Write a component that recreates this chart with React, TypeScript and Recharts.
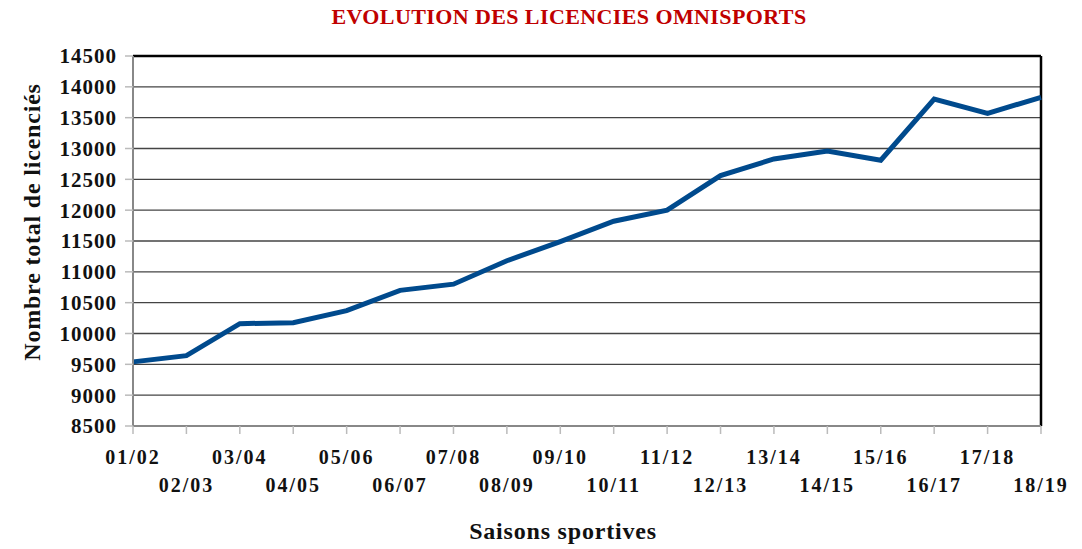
import { LineChart, Line, XAxis, YAxis, CartesianGrid, ReferenceLine } from 'recharts'

const saisons = [
  '01/02', '02/03', '03/04', '04/05', '05/06', '06/07', '07/08', '08/09', '09/10',
  '10/11', '11/12', '12/13', '13/14', '14/15', '15/16', '16/17', '17/18', '18/19',
]
const licencies = [
  9540, 9640, 10160, 10175, 10370, 10700, 10800, 11180, 11490,
  11820, 12000, 12560, 12830, 12960, 12810, 13800, 13570, 13830,
]
const yTicks = [8500, 9000, 9500, 10000, 10500, 11000, 11500, 12000, 12500, 13000, 13500, 14000, 14500]

const FONT = '"Liberation Serif", serif'

const data = saisons.map((s, i) => ({ saison: s, total: licencies[i] }))

function SaisonTick(props: any) {
  const { x, y, payload } = props
  const idx = saisons.indexOf(payload.value)
  const dy = idx % 2 === 0 ? 28 : 56
  return (
    <text x={x} y={y + dy} textAnchor="middle" fontFamily={FONT} fontWeight="bold" fontSize={20}
      letterSpacing={2} fill="#111">
      {payload.value}
    </text>
  )
}

export default function App() {
  return (
    <div style={{ position: 'absolute', left: 0, top: 0, width: 1082, height: 549, background: '#fff', fontFamily: FONT }}>
      <div style={{ position: 'absolute', top: 4, left: 0, width: 1138, textAlign: 'center', color: '#C00000', fontWeight: 'bold', fontSize: 22, letterSpacing: 0.4 }}>
        EVOLUTION DES LICENCIES OMNISPORTS
      </div>
      <div style={{
        position: 'absolute', left: 32, top: 222, transform: 'translate(-50%, -50%) rotate(-90deg)',
        whiteSpace: 'nowrap', fontWeight: 'bold', fontSize: 24, letterSpacing: 0.8, color: '#111',
      }}>
        Nombre total de licenciés
      </div>
      <div style={{ position: 'absolute', top: 518, left: 0, width: 1126, textAlign: 'center', fontWeight: 'bold', fontSize: 24, letterSpacing: 0.8, color: '#111' }}>
        Saisons sportives
      </div>
      <LineChart width={1082} height={549} data={data} margin={{ top: 56, right: 41, left: 0, bottom: 43 }}>
        <CartesianGrid vertical={false} stroke="#444" strokeWidth={1.3} />
        <XAxis
          dataKey="saison"
          height={80}
          interval={0}
          axisLine={{ stroke: '#888', strokeWidth: 2 }}
          tickLine={{ stroke: '#bbb', strokeWidth: 1.5 }}
          tickSize={8}
          tick={<SaisonTick />}
        />
        <YAxis
          width={133}
          domain={[8500, 14500]}
          ticks={yTicks}
          interval={0}
          axisLine={{ stroke: '#888', strokeWidth: 2 }}
          tickLine={{ stroke: '#bbb', strokeWidth: 1.5 }}
          tickSize={8}
          tickMargin={8}
          tick={{ fontFamily: FONT, fontWeight: 'bold', fontSize: 21, fill: '#111', letterSpacing: 1 }}
        />
        <ReferenceLine y={14500} stroke="#000" strokeWidth={2.5} />
        <ReferenceLine x="18/19" stroke="#000" strokeWidth={2.5} />
        <Line
          type="linear"
          dataKey="total"
          stroke="#004A8D"
          strokeWidth={5}
          dot={false}
          isAnimationActive={false}
        />
      </LineChart>
    </div>
  )
}
